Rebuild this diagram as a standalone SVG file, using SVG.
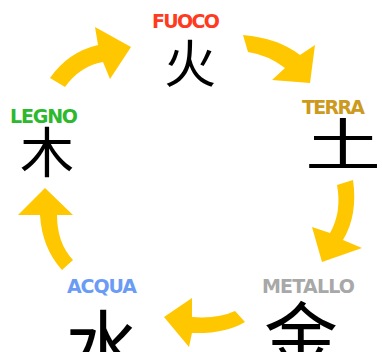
<svg xmlns="http://www.w3.org/2000/svg" width="382" height="352" viewBox="0 0 382 352">
<style>
.lbl{font-family:"DejaVu Sans","Liberation Sans",sans-serif;font-weight:bold;font-size:19px}
.kanji{font-family:"Noto Sans CJK SC","Noto Sans CJK JP",sans-serif;fill:#000;text-anchor:middle;dominant-baseline:central}
.arr{fill:#ffc700}
</style>
<rect width="382" height="352" fill="#fff"/>
<g id="connectors">
<path class="arr" d="M50,78 Q68,52 98,45 L95,27 L131,47 L110,79 L103,62 Q80,66 65,87 Z"/>
<path class="arr" d="M243,35 Q278,38 300,55 L315,45 L310,83 L272,80 L285,68 Q268,55 248,52 Z"/>
<path class="arr" d="M353,180 Q358,215 343,240 L362,248 L322,262 L312,227 L330,233 Q342,212 337,185 Z"/>
<path class="arr" d="M245,322 Q225,334 192,333 L189,347 L164,317 L192,298 L192,317 Q218,319 235,311 Z"/>
<path class="arr" d="M62,270 Q42,248 40,215 L18,215 L45,188 L73,215 L57,215 Q57,243 73,260 Z"/>
</g>
<g id="fuoco">
<text class="lbl" x="152" y="28" fill="#ff3b1f" textLength="68">FUOCO</text>
<text class="kanji" x="190" y="60" font-size="52">火</text>
</g>
<g id="terra">
<text class="lbl" x="302" y="114" fill="#cc9a1c" textLength="63">TERRA</text>
<text class="kanji" transform="translate(343,141) scale(1.35,1)" x="0" y="0" font-size="56">土</text>
</g>
<g id="metallo">
<text class="lbl" x="262" y="293" fill="#a8a8a8" textLength="93">METALLO</text>
<text class="kanji" x="301" y="331" font-size="74">金</text>
</g>
<g id="acqua">
<text class="lbl" x="67" y="293" fill="#6b9cf5" textLength="70">ACQUA</text>
<text class="kanji" x="103" y="341" font-size="76">水</text>
</g>
<g id="legno">
<text class="lbl" x="10" y="123" fill="#2db82d" textLength="68">LEGNO</text>
<text class="kanji" x="47" y="149" font-size="54">木</text>
</g>
</svg>
